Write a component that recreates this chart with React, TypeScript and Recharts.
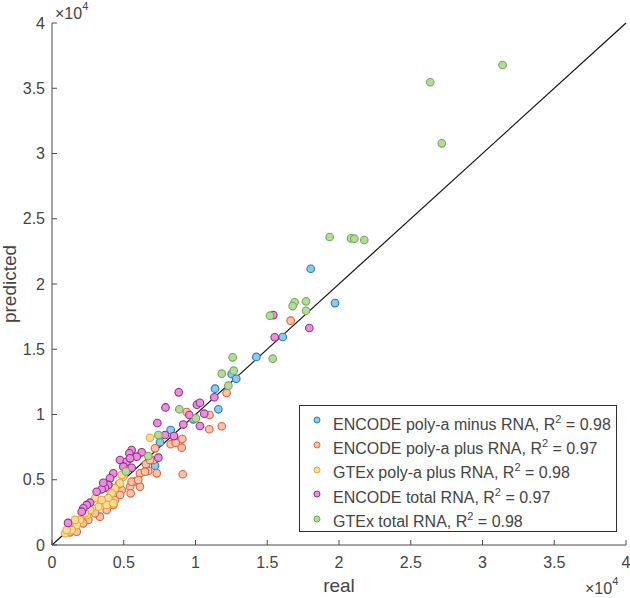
import { ScatterChart, Scatter, XAxis, YAxis, ReferenceLine, Legend } from "recharts";

// [real, predicted] pairs
const POLYA_MINUS: [number, number][] = [
  [18030, 21170], [19720, 18540], [16080, 15940], [14240, 14410], [12520, 13100],
  [12840, 12740], [11360, 11980], [11590, 10400], [9850, 9630], [8270, 8810],
  [7530, 7870], [7180, 6080], [5830, 4870],
];

const POLYA_PLUS: [number, number][] = [
  [16630, 17190], [12170, 11650], [10980, 9960], [9390, 10190], [10960, 8870],
  [11830, 9100], [9080, 8120], [8500, 8300], [8270, 7720], [9040, 7460],
  [8620, 7840], [9110, 5420], [7180, 7410], [7060, 6510], [6550, 6180],
  [6710, 5670], [6130, 5490], [7300, 5490], [6130, 4470], [5440, 4470],
  [5550, 4850], [6010, 4980], [5480, 3960], [4860, 4210], [4670, 4670],
  [4740, 3830], [4090, 4420], [4390, 3450], [4270, 3070], [3810, 2680],
  [3340, 2170], [3000, 2430], [2530, 1920], [2180, 1660], [1720, 1020],
  [1250, 970], [6480, 5620], [6830, 6510],
];

const GTEX_POLYA_PLUS: [number, number][] = [
  [6830, 8220], [4970, 5230], [4860, 5360], [3920, 4340], [4740, 4730],
  [4390, 4340], [4160, 3960], [3920, 3580], [3460, 3320], [3810, 3070],
  [3230, 2930], [2770, 2810], [2420, 2300], [1950, 1920], [1720, 1530],
  [1370, 1150], [910, 900], [3000, 3580], [3460, 3450], [4270, 3200],
  [2650, 2680], [2300, 2430], [1600, 1920], [1020, 1150],
];

const TOTAL: [number, number][] = [
  [17930, 16630], [15420, 17620], [15520, 15920], [11310, 11320], [8830, 11700],
  [7910, 10540], [10100, 10750], [10310, 10900], [10610, 10060], [9570, 9960],
  [10310, 9120], [9150, 9230], [7340, 9350], [7870, 8430], [8500, 8350],
  [5550, 7280], [6250, 7100], [5390, 7030], [5900, 6770], [7410, 6690],
  [4740, 6510], [5210, 6380], [4970, 6000], [5550, 5920], [4270, 5490],
  [4040, 5110], [3920, 4600], [3690, 4390], [3460, 4270], [3110, 4080],
  [2650, 3240], [2420, 3070], [2180, 2810], [2070, 2550], [1120, 1690],
  [3570, 4770], [5440, 6640],
];

const GTEX_TOTAL: [number, number][] = [
  [31400, 36780], [26360, 35460], [27160, 30780], [19350, 23600], [20840, 23500],
  [21070, 23470], [21760, 23370], [16910, 18600], [16770, 18310], [17700, 18670],
  [17700, 17950], [15190, 17570], [15380, 14280], [12590, 14380], [11830, 13130],
  [12660, 13360], [12290, 12210], [8870, 10400], [10030, 9710], [7410, 8420],
  [6710, 6820], [5150, 5640],
];

const SERIES_NAMES = [
  "ENCODE poly-a minus RNA",
  "ENCODE poly-a plus RNA",
  "GTEx poly-a plus RNA",
  "ENCODE total RNA",
  "GTEx total RNA",
];
const R2_VALUES = ["0.98", "0.97", "0.98", "0.97", "0.98"];
const SERIES_DATA = [POLYA_MINUS, POLYA_PLUS, GTEX_POLYA_PLUS, TOTAL, GTEX_TOTAL];
const FILLS = ["#8ccaf0", "#f7c3ae", "#f8dc98", "#ea8fda", "#b6da9e"];
const STROKES = ["#2b78b8", "#dc6438", "#e4a935", "#92308c", "#74aa55"];

const TICKS = [0, 5000, 10000, 15000, 20000, 25000, 30000, 35000, 40000];

const AXIS_COLOR = "#4a4a4a";
const TEXT_COLOR = "#444";
const FONT = "'Liberation Sans', Arial, sans-serif";

const fmt = (v: number) => String(v / 10000);

function Dot(props: any) {
  const { cx, cy, fill, stroke } = props;
  if (cx == null || cy == null) return null;
  return <circle cx={cx} cy={cy} r={3.8} fill={fill} stroke={stroke} strokeWidth={1.1} />;
}

function LegendBox() {
  return (
    <div
      style={{
        position: "relative",
        boxSizing: "border-box",
        width: 318,
        height: 127,
        border: "1px solid #2e2e2e",
        background: "#fff",
        fontFamily: FONT,
        fontSize: 16,
        color: TEXT_COLOR,
      }}
    >
      {SERIES_NAMES.map((name, i) => (
        <div key={name}>
          <svg
            width={10}
            height={10}
            style={{ position: "absolute", left: 12, top: 14 + i * 24.75 - 5 }}
          >
            <circle cx={5} cy={5} r={3} fill={FILLS[i]} stroke={STROKES[i]} strokeWidth={1} />
          </svg>
          <span
            style={{
              position: "absolute",
              left: 33,
              top: 9.5 + i * 24.4,
              lineHeight: "18px",
              whiteSpace: "nowrap",
            }}
          >
            {name}, R
            <sup style={{ fontSize: 11, lineHeight: 0, verticalAlign: "7px" }}>2</sup> = {R2_VALUES[i]}
          </span>
        </div>
      ))}
    </div>
  );
}

export default function App() {
  return (
    <div style={{ position: "absolute", left: 0, top: 0, width: 630, height: 598, background: "#fff" }}>
      <ScatterChart
        width={630}
        height={598}
        margin={{ top: 23, right: 4, bottom: 23, left: 12 }}
        style={{ fontFamily: FONT }}
      >
        <XAxis
          xAxisId="b"
          dataKey="real"
          type="number"
          domain={[0, 40000]}
          ticks={TICKS}
          interval={0}
          height={30}
          tickSize={-5}
          tickMargin={17}
          tickFormatter={fmt}
          stroke={AXIS_COLOR}
          tick={{ fill: TEXT_COLOR, fontSize: 16 }}
          label={{ value: "real", position: "bottom", offset: 4, fill: TEXT_COLOR, fontSize: 19 }}
        />
        <XAxis
          xAxisId="t"
          orientation="top"
          type="number"
          domain={[0, 40000]}
          ticks={TICKS}
          interval={0}
          height={0}
          tickSize={-5}
          tick={false}
          stroke={AXIS_COLOR}
        />
        <YAxis
          yAxisId="l"
          dataKey="predicted"
          type="number"
          domain={[0, 40000]}
          ticks={TICKS}
          interval={0}
          width={40}
          tickSize={-5}
          tickMargin={12}
          tickFormatter={fmt}
          stroke={AXIS_COLOR}
          tick={{ fill: TEXT_COLOR, fontSize: 16 }}
          label={{
            value: "predicted",
            angle: -90,
            position: "insideLeft",
            offset: -3,
            fill: TEXT_COLOR,
            fontSize: 19,
            style: { textAnchor: "middle" },
          }}
        />
        <YAxis
          yAxisId="r"
          orientation="right"
          type="number"
          domain={[0, 40000]}
          ticks={TICKS}
          interval={0}
          width={0}
          tickSize={-5}
          tick={false}
          stroke={AXIS_COLOR}
        />
        {SERIES_DATA.map((pts, i) => (
          <Scatter
            key={SERIES_NAMES[i]}
            name={SERIES_NAMES[i]}
            xAxisId="b"
            yAxisId="l"
            data={pts.map(([real, predicted]) => ({ real, predicted }))}
            fill={FILLS[i]}
            stroke={STROKES[i]}
            shape={<Dot fill={FILLS[i]} stroke={STROKES[i]} />}
            isAnimationActive={false}
          />
        ))}
        <ReferenceLine
          xAxisId="b"
          yAxisId="l"
          segment={[{ x: 0, y: 0 }, { x: 40000, y: 40000 }]}
          stroke="#111"
          strokeWidth={1.2}
        />
        <Legend
          layout="vertical"
          align="center"
          verticalAlign="middle"
          wrapperStyle={{ left: 299, top: 405, width: 318, height: 127 }}
          content={() => <LegendBox />}
        />
      </ScatterChart>
      <svg
        width={630}
        height={598}
        style={{ position: "absolute", left: 0, top: 0, pointerEvents: "none" }}
        fontFamily={FONT}
        fill={TEXT_COLOR}
      >
        <text x={55} y={19} fontSize={16}>
          ×10<tspan dy={-9} fontSize={11}>4</tspan>
        </text>
        <text x={585} y={594} fontSize={16}>
          ×10<tspan dy={-9} fontSize={11}>4</tspan>
        </text>
      </svg>
    </div>
  );
}
